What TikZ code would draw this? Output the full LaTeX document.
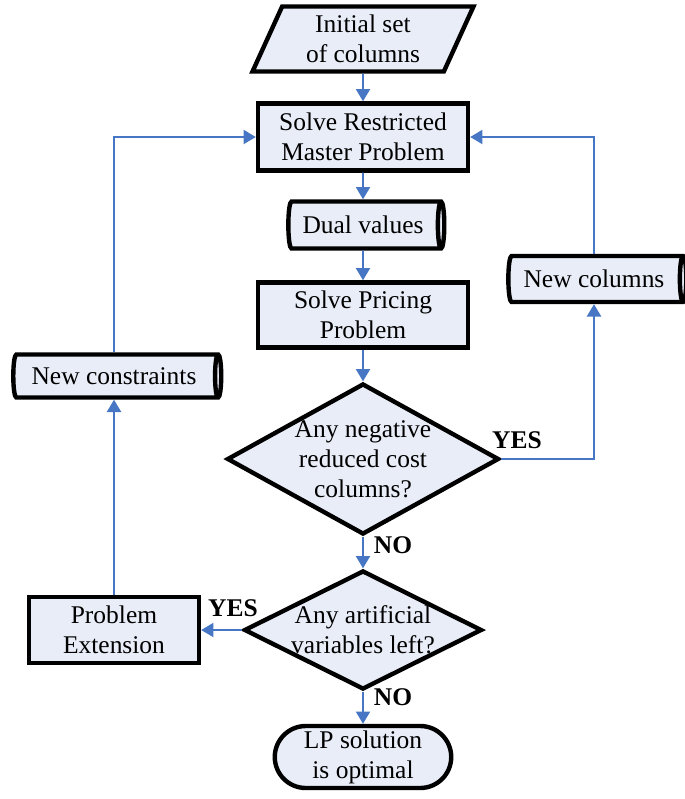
\documentclass[tikz,border=0pt]{standalone}
\usepackage{fontspec}
\setmainfont{Liberation Serif}
\usetikzlibrary{arrows.meta,shapes.geometric,shapes.misc}
\definecolor{figline}{RGB}{0,0,0}
\definecolor{figpanel}{RGB}{233,237,247}
\definecolor{figflow}{RGB}{70,118,196}
\tikzset{
  blk/.style  ={draw=figline, line width=2.5pt, fill=figpanel, inner sep=1pt,
                font=\fontsize{14.5}{17}\selectfont, align=center},
  box/.style  ={blk, rectangle, minimum width=4.2cm, minimum height=1.34cm},
  io/.style   ={blk, trapezium, trapezium left angle=60, trapezium right angle=120,
                trapezium stretches body, minimum width=4.42cm, minimum height=1.3cm},
  dat/.style  ={blk, cylinder, aspect=0.3},
  dec/.style  ={blk, diamond},
  term/.style ={blk, rounded rectangle, minimum width=3.6cm, minimum height=1.24cm},
  txt/.style  ={font=\fontsize{14.5}{17}\selectfont, align=center, inner sep=0pt},
  yn/.style   ={font=\fontsize{14.5}{17}\selectfont\bfseries, inner sep=1pt},
  flow/.style ={draw=figflow, line width=1.1pt, -{Triangle[length=7pt,width=8pt]}},
}
\begin{document}
\begin{tikzpicture}[x=0.02cm,y=-0.02cm]
  \useasboundingbox (0,0) rectangle (685,799);
  \node[io] (init) at (363,39) {Initial set\\of columns};
  \node[box] (rmp) at (363,137) {Solve Restricted\\Master Problem};
  \node[dat, minimum height=3.12cm, minimum width=0.94cm] (dual) at (363,225) {Dual values};
  \node[box, minimum height=1.3cm] (price) at (363,315) {Solve Pricing\\Problem};
  \node[dec, minimum width=5.44cm, minimum height=3.02cm,
        label={[txt]center:Any negative\\reduced cost\\columns?}] (dneg) at (363,459) {};
  \node[dat, minimum height=3.56cm, minimum width=0.92cm] (newcol) at (594,279) {New columns};
  \node[dec, minimum width=4.76cm, minimum height=2.38cm,
        label={[txt]center:Any artificial\\variables left?}] (dart) at (363,630) {};
  \node[box, minimum width=3.4cm, minimum height=1.32cm] (ext) at (114,630) {Problem\\Extension};
  \node[dat, minimum height=4.16cm, minimum width=0.86cm] (newcon) at (114,376) {New constraints};
  \node[term] (lp) at (363,757) {LP solution\\is optimal};
  \node[yn] (yes1) at (517,440) {YES};
  \node[yn] (no1) at (393,545) {NO};
  \node[yn] (yes2) at (233,608) {YES};
  \node[yn] (no2) at (393,697) {NO};
  \draw[flow] (init) -- (rmp);
  \draw[flow] (rmp) -- (dual);
  \draw[flow] (dual) -- (price);
  \draw[flow] (price) -- (dneg);
  \draw[flow] (dneg.east) -| (newcol.south);
  \draw[flow] (newcol.north) |- (rmp.east);
  \draw[flow] (dneg.south) -- (dart.north);
  \draw[flow] (dart.west) -- (ext.east);
  \draw[flow] (ext.north) -- (newcon.south);
  \draw[flow] (newcon.north) |- (rmp.west);
  \draw[flow] (dart.south) -- (lp.north);
\end{tikzpicture}
\end{document}
